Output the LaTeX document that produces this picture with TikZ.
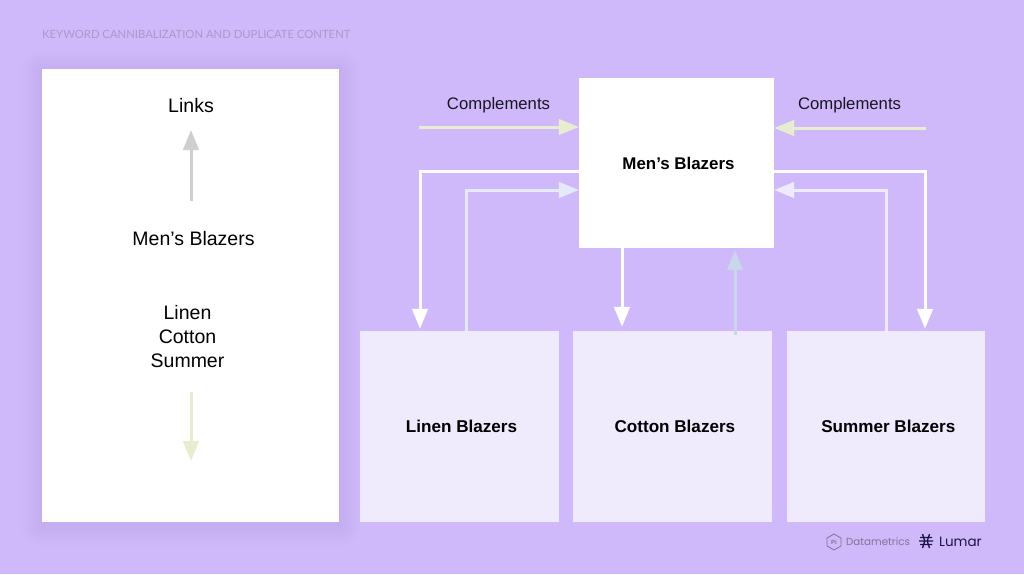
\documentclass[tikz,border=0pt]{standalone}
\usepackage{fontspec}
\setmainfont{Liberation Sans}
\newfontfamily\logofont{Poppins}
\newfontfamily\titlefont{Lato}
\usetikzlibrary{positioning,arrows.meta,shapes.geometric}
\definecolor{bgviolet}{HTML}{CFB9FA}
\definecolor{paleviolet}{HTML}{F0EAFD}
\definecolor{paleblue}{HTML}{E3EBF8}
\definecolor{greyblue}{HTML}{C9D7EA}
\definecolor{paleolive}{HTML}{E8EDCF}
\definecolor{linkgrey}{HTML}{CFCFCF}
\definecolor{inkdark}{HTML}{1A1523}
\definecolor{titlegrey}{HTML}{AA9AC9}
\definecolor{logogrey}{HTML}{7F7594}
\definecolor{logonavy}{HTML}{1B1547}

\begin{document}
\begin{tikzpicture}[
  x=1pt, y=-1pt,
  mainbox/.style={fill=white, minimum width=195pt, minimum height=170pt, inner sep=0pt, execute at begin node=\hspace*{4pt}, font=\fontsize{16.9}{20}\selectfont\bfseries},
  childbox/.style={fill=paleviolet, minimum width=198.5pt, minimum height=191pt, inner sep=0pt, execute at begin node=\hspace*{4.5pt}, font=\fontsize{17.1}{20}\selectfont\bfseries},
  sidetext/.style={text=black, align=center, font=\fontsize{19.5}{24}\selectfont, inner sep=0pt},
  complabel/.style={text=inkdark, font=\fontsize{16.7}{20}\selectfont, inner sep=0pt},
  arrow/.style={-{Triangle[length=20pt,width=15.5pt]}, line width=3pt},
]
  \useasboundingbox (0,0) rectangle (1024,574);
  \fill[bgviolet] (0,0) rectangle (1024,574);

  % soft edge round the side panel
  \foreach \s in {2,4,...,22}
    \fill[black, opacity=0.004, rounded corners=\s pt] (42-\s,69-\s+3) rectangle (339+\s,522+\s+3);

  \node[anchor=west, text=titlegrey, inner sep=0pt, font=\titlefont\fontsize{11.3}{14}\selectfont] (title) at (42,34) {KEYWORD CANNIBALIZATION AND DUPLICATE CONTENT};

  % side panel
  \node[fill=white, minimum width=297pt, minimum height=453pt, inner sep=0pt] (panel) at (190.5,295.5) {};
  \node[sidetext] (links) at (191,106) {Links};
  \node[sidetext] (mens) at (193.5,239) {Men’s Blazers};
  \node[sidetext] (terms) at (187.5,337) {Linen\\Cotton\\Summer};
  \coordinate (linksfrom) at (191,201);
  \coordinate (linksto) at (191,130);
  \coordinate (termsfrom) at (191,392);
  \coordinate (termsto) at (191,461);
  \draw[arrow, linkgrey] (linksfrom) -- (linksto);
  \draw[arrow, paleolive] (termsfrom) -- (termsto);

  % page and its children
  \node[mainbox] (blazers) at (676.5,163) {Men’s Blazers};
  \node[childbox] (linen) at (459.25,426.5) {Linen Blazers};
  \node[childbox, right=14.5pt of linen] (cotton) {Cotton Blazers};
  \node[childbox, right=14.5pt of cotton] (summer) {Summer Blazers};

  \coordinate (compleft) at (419,127);
  \coordinate (compleftend) at (blazers.west |- compleft);
  \coordinate (compright) at (926,128);
  \coordinate (comprightend) at (blazers.east |- compright);
  \node[complabel] (compl) at (498.5,105.5) {Complements};
  \node[complabel] (compr) at (849.5,105.5) {Complements};
  \draw[arrow, paleolive] (compleft) -- (compleftend);
  \draw[arrow, paleolive] (compright) -- (comprightend);

  \coordinate (downa) at (420,171);
  \coordinate (downb) at (925,171);
  \coordinate (upa) at (466,190);
  \coordinate (upb) at (886,190);
  \coordinate (downc) at (622,248);
  \coordinate (upc) at (735,335);
  \draw[arrow, white] (blazers.west |- downa) -- (downa) -- ([yshift=2pt]linen.north -| downa);
  \draw[arrow, white] (blazers.east |- downb) -- (downb) -- ([yshift=2pt]summer.north -| downb);
  \draw[arrow, white] (downc) -- ([yshift=4pt]cotton.north -| downc);
  \draw[arrow, paleblue] (linen.north -| upa) -- (upa) -- (blazers.west |- upa);
  \draw[arrow, paleviolet] (summer.north -| upb) -- (upb) -- (blazers.east |- upb);
  \draw[arrow, greyblue] (upc) -- ([yshift=-2pt]blazers.south -| upc);

  % footer logos
  \node[regular polygon, regular polygon sides=6, shape border rotate=30, draw=logogrey, line width=0.8pt, minimum size=16pt, inner sep=0pt, text=logogrey, font=\bfseries\fontsize{6}{7}\selectfont] (pilogo) at (834,542) {Pi};
  \node[anchor=west, text=logogrey, inner sep=0pt, font=\logofont\fontsize{10.3}{14}\selectfont] (datametrics) at (846,541.5) {Datametrics};
  \draw[logonavy, line width=1.3pt] (922.5,534) -- (924.8,541) -- (922.5,548) (929.5,534) -- (927.2,541) -- (929.5,548)
    (920,537.5) -- (932,537.5) (919,541) -- (933,541) (920,544.5) -- (932,544.5);
  \node[anchor=west, text=logonavy, inner sep=0pt, font=\logofont\fontsize{13.5}{16}\selectfont] (lumar) at (939,541.5) {Lumar};
\end{tikzpicture}
\end{document}
